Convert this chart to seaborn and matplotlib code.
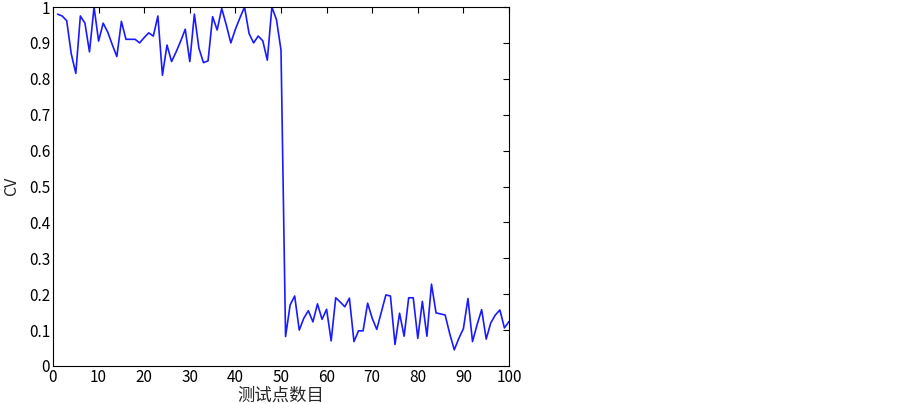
import matplotlib
matplotlib.use("Agg")
import matplotlib.pyplot as plt
import seaborn as sns
import pandas as pd

# test point index
points = list(range(1, 101))

# CV values
cv_values = [
    0.980, 0.975, 0.962, 0.870, 0.815, 0.975, 0.955, 0.875, 1.000, 0.905,
    0.955, 0.930, 0.895, 0.862, 0.960, 0.910, 0.910, 0.910, 0.900, 0.915,
    0.928, 0.919, 0.975, 0.810, 0.894, 0.848, 0.875, 0.905, 0.938, 0.848,
    0.980, 0.885, 0.845, 0.850, 0.973, 0.936, 0.996, 0.950, 0.900, 0.938,
    0.970, 1.000, 0.926, 0.900, 0.919, 0.906, 0.852, 1.000, 0.965, 0.880,
    0.082, 0.170, 0.195, 0.100, 0.133, 0.154, 0.123, 0.173, 0.130, 0.158,
    0.070, 0.190, 0.178, 0.165, 0.189, 0.068, 0.098, 0.098, 0.175, 0.133,
    0.102, 0.150, 0.198, 0.195, 0.060, 0.147, 0.083, 0.190, 0.190, 0.077,
    0.180, 0.083, 0.228, 0.148, 0.145, 0.142, 0.090, 0.045, 0.077, 0.104,
    0.188, 0.068, 0.115, 0.157, 0.075, 0.120, 0.142, 0.156, 0.106, 0.124,
]

x_ticks = list(range(0, 101, 10))
y_ticks = [0, 0.1, 0.2, 0.3, 0.4, 0.5, 0.6, 0.7, 0.8, 0.9, 1]
y_tick_labels = ["0", "0.1", "0.2", "0.3", "0.4", "0.5", "0.6", "0.7", "0.8", "0.9", "1"]
x_label = "测试点数目"
y_label = "CV"

df = pd.DataFrame({"point": points, "cv": cv_values})

sns.set_style("white")
plt.rcParams["font.family"] = ["Noto Sans CJK SC", "DejaVu Sans"]

fig = plt.figure(figsize=(9.03, 4.04), dpi=100)
ax = fig.add_axes([53 / 903, 38 / 404, 456 / 903, 359 / 404])

sns.lineplot(data=df, x="point", y="cv", ax=ax, color="#1a1aff", linewidth=1.2)

ax.set_xlim(0, 100)
ax.set_ylim(0, 1)
ax.set_xticks(x_ticks)
ax.set_xticklabels([str(t) for t in x_ticks])
ax.set_yticks(y_ticks)
ax.set_yticklabels(y_tick_labels)
ax.tick_params(direction="in", top=True, right=True, length=4, width=0.8,
               labelsize=11, colors="black", pad=2)
for s in ax.spines.values():
    s.set_color("black")
    s.set_linewidth(0.8)
ax.set_xlabel(x_label, fontsize=12.5, labelpad=1)
ax.set_ylabel(y_label, fontsize=11.5, labelpad=6)

fig.savefig("out.png", dpi=100, facecolor="white")
